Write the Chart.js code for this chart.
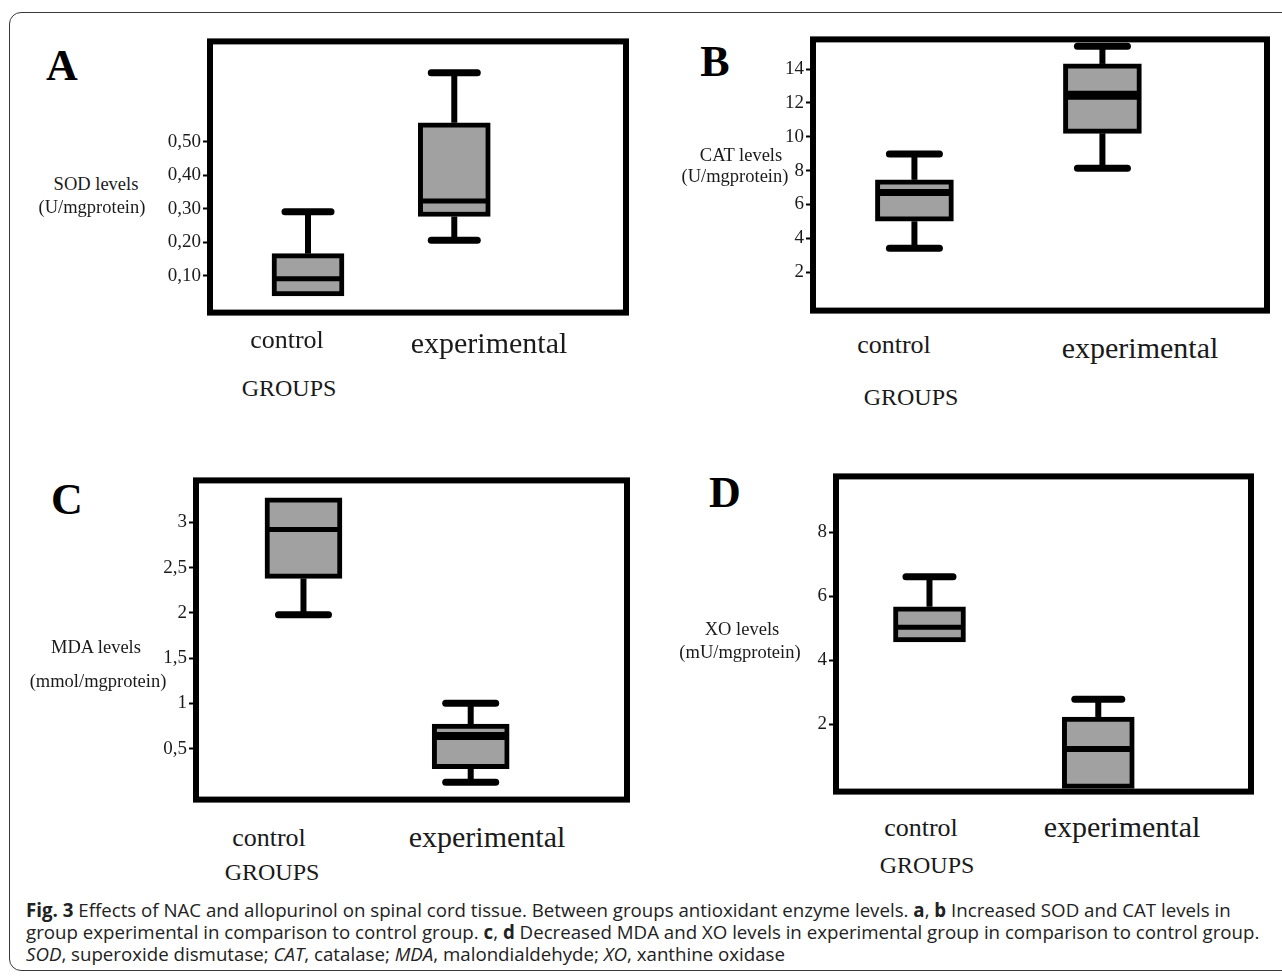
<!DOCTYPE html>
<html>
<head>
<meta charset="utf-8">
<script src="https://cdn.jsdelivr.net/npm/chart.js@4.4.1/dist/chart.umd.min.js"></script>
<style>
  html, body { margin: 0; padding: 0; background: #fff; }
  body { width: 1282px; height: 980px; position: relative; overflow: hidden; }
  .outer { position: absolute; left: 9px; top: 12px; width: 1300px; height: 959px;
           border: 1.5px solid #3a3a3a; border-radius: 12px; box-sizing: border-box; }
  canvas { position: absolute; }
  .t { position: absolute; white-space: nowrap; font-family: "Liberation Serif", serif;
       color: #1a1a1a; transform: translate(-50%, -50%); line-height: 1; }
  .letter { font-weight: bold; font-size: 44px; color: #000; }
  .ytitle { font-size: 18.5px; }
  .cat { font-size: 26px; }
  .cat.big { font-size: 30px; }
  .groups { font-size: 24px; }
  .cap { position: absolute; left: 26px; white-space: nowrap; font-family: "Open Sans", sans-serif;
         font-size: 18.7px; color: #222; transform: translateY(-50%); }
</style>
</head>
<body>
<div class="outer"></div>
<script>
// groups on the x axis
const groups = ['control', 'experimental'];

// A - SOD levels (U/mgprotein)
const sodTicks = [0.1, 0.2, 0.3, 0.4, 0.5];
const sodTickLabels = ['0,10', '0,20', '0,30', '0,40', '0,50'];
const sodMin = [0.04, 0.206];
const sodQ1 = [0.04, 0.277];
const sodMedian = [0.091, 0.323];
const sodQ3 = [0.166, 0.557];
const sodMax = [0.291, 0.706];

// B - CAT levels (U/mgprotein)
const catTicks = [2, 4, 6, 8, 10, 12, 14];
const catTickLabels = ['2', '4', '6', '8', '10', '12', '14'];
const catMin = [3.41, 8.13];
const catQ1 = [5.0, 10.2];
const catMedian = [6.7, 12.45];
const catQ3 = [7.45, 14.3];
const catMax = [8.98, 15.35];

// C - MDA levels (mmol/mgprotein)
const mdaTicks = [0.5, 1, 1.5, 2, 2.5, 3];
const mdaTickLabels = ['0,5', '1', '1,5', '2', '2,5', '3'];
const mdaMin = [1.98, 0.13];
const mdaQ1 = [2.38, 0.28];
const mdaMedian = [2.92, 0.64];
const mdaQ3 = [3.27, 0.77];
const mdaMax = [3.27, 1.0];

// D - XO levels (mU/mgprotein)
const xoTicks = [2, 4, 6, 8];
const xoTickLabels = ['2', '4', '6', '8'];
const xoMin = [4.57, 0];
const xoQ1 = [4.57, 0];
const xoMedian = [5.03, 1.23];
const xoQ3 = [5.67, 2.23];
const xoMax = [6.61, 2.78];

// whiskers, caps, medians and the heavy frame
const boxExtras = {
  id: 'boxExtras',
  beforeDatasetsDraw(chart) {
    const { ctx, scales: { x, y } } = chart;
    const st = chart.data.datasets[0].stats;
    const cap = chart.options.capWidth;
    ctx.save();
    ctx.strokeStyle = '#000';
    groups.forEach((g, i) => {
      const cx = x.getPixelForValue(i);
      const segs = [];
      if (st.max[i] > st.q3[i]) segs.push([st.q3[i], st.max[i]]);
      if (st.min[i] < st.q1[i]) segs.push([st.q1[i], st.min[i]]);
      segs.forEach(([from, to]) => {
        ctx.lineWidth = 6;
        ctx.lineCap = 'butt';
        ctx.beginPath();
        ctx.moveTo(cx, y.getPixelForValue(from));
        ctx.lineTo(cx, y.getPixelForValue(to));
        ctx.stroke();
        ctx.lineWidth = 7;
        ctx.lineCap = 'round';
        ctx.beginPath();
        ctx.moveTo(cx - cap / 2 + 3, y.getPixelForValue(to));
        ctx.lineTo(cx + cap / 2 - 3, y.getPixelForValue(to));
        ctx.stroke();
      });
    });
    ctx.restore();
  },
  afterDatasetsDraw(chart) {
    const { ctx, scales: { y } } = chart;
    const st = chart.data.datasets[0].stats;
    const meta = chart.getDatasetMeta(0);
    ctx.save();
    ctx.strokeStyle = '#000';
    ctx.lineCap = 'butt';
    groups.forEach((g, i) => {
      const bar = meta.data[i];
      const w = bar.width;
      ctx.lineWidth = chart.options.medianWidths[i];
      ctx.beginPath();
      ctx.moveTo(bar.x - w / 2 + 2, y.getPixelForValue(st.median[i]));
      ctx.lineTo(bar.x + w / 2 - 2, y.getPixelForValue(st.median[i]));
      ctx.stroke();
    });
    const a = chart.chartArea;
    ctx.lineWidth = 6;
    ctx.lineJoin = 'miter';
    ctx.strokeRect(a.left, a.top, a.right - a.left, a.bottom - a.top);
    ctx.restore();
  }
};

function makePanel(p) {
  const pad = 8, axisW = 60;
  const cv = document.createElement('canvas');
  const w = p.frame.r - p.frame.l + axisW + 2 * pad;
  const h = p.frame.b - p.frame.t + 2 * pad;
  cv.width = w; cv.height = h;
  cv.style.left = (p.frame.l - axisW - pad) + 'px';
  cv.style.top = (p.frame.t - pad) + 'px';
  document.body.appendChild(cv);

  new Chart(cv, {
    type: 'bar',
    data: {
      datasets: [{
        data: groups.map((g, i) => ({ x: i, y: [p.q1[i], p.q3[i]] })),
        stats: { min: p.min, q1: p.q1, median: p.median, q3: p.q3, max: p.max },
        backgroundColor: '#a1a1a1',
        borderColor: '#000',
        borderWidth: 5,
        borderSkipped: false,
        barThickness: p.barWidth
      }]
    },
    options: {
      responsive: false,
      animation: false,
      capWidth: p.capWidth,
      medianWidths: p.medianWidths,
      layout: { padding: pad },
      plugins: { legend: { display: false }, tooltip: { enabled: false } },
      scales: {
        x: { type: 'linear', display: false, min: p.xRange[0], max: p.xRange[1] },
        y: {
          min: p.yRange[0], max: p.yRange[1],
          afterFit(scale) { scale.width = axisW; },
          afterBuildTicks(scale) { scale.ticks = p.ticks.map(v => ({ value: v })); },
          ticks: {
            callback: (v, i) => p.tickLabels[i],
            font: { family: 'Liberation Serif', size: 19 },
            color: '#1a1a1a',
            padding: 2
          },
          grid: { drawOnChartArea: false, drawTicks: true, tickLength: 7, tickWidth: 2, tickColor: '#000' },
          border: { display: false }
        }
      }
    },
    plugins: [boxExtras]
  });

  const put = (text, cls, x, y) => {
    const d = document.createElement('div');
    d.className = 't ' + cls;
    d.textContent = text;
    d.style.left = x + 'px';
    d.style.top = y + 'px';
    document.body.appendChild(d);
  };
  put(p.letter, 'letter', p.letterAt[0], p.letterAt[1]);
  put(p.title[0], 'ytitle', p.titleAt[0][0], p.titleAt[0][1]);
  put(p.title[1], 'ytitle', p.titleAt[1][0], p.titleAt[1][1]);
  put(groups[0], 'cat', p.catAt[0][0], p.catAt[0][1]);
  put(groups[1], 'cat big', p.catAt[1][0], p.catAt[1][1]);
  put('GROUPS', 'groups', p.groupsAt[0], p.groupsAt[1]);
}

makePanel({
  letter: 'A', letterAt: [62, 66],
  title: ['SOD levels', '(U/mgprotein)'], titleAt: [[96, 184], [92, 207]],
  catAt: [[287, 340], [489, 343]], groupsAt: [289, 388],
  frame: { l: 210, t: 36, r: 626, b: 318 },
  xRange: [-0.433, 1.937], yRange: [-0.01, 0.8],
  barWidth: 72, capWidth: 52, medianWidths: [5, 5],
  ticks: sodTicks, tickLabels: sodTickLabels,
  min: sodMin, q1: sodQ1, median: sodMedian, q3: sodQ3, max: sodMax
});

makePanel({
  letter: 'B', letterAt: [715, 62],
  title: ['CAT levels', '(U/mgprotein)'], titleAt: [[741, 155], [735, 176]],
  catAt: [[894, 345], [1140, 348]], groupsAt: [911, 397],
  frame: { l: 813, t: 34, r: 1267, b: 316 },
  xRange: [-0.298, 1.634], yRange: [-0.28, 15.75],
  barWidth: 78, capWidth: 56, medianWidths: [7, 9],
  ticks: catTicks, tickLabels: catTickLabels,
  min: catMin, q1: catQ1, median: catMedian, q3: catQ3, max: catMax
});

makePanel({
  letter: 'C', letterAt: [67, 500],
  title: ['MDA levels', '(mmol/mgprotein)'], titleAt: [[96, 647], [98, 681]],
  catAt: [[269, 838], [487, 837]], groupsAt: [272, 872],
  frame: { l: 196, t: 475, r: 627, b: 805 },
  xRange: [-0.385, 1.677], yRange: [-0.063, 3.463],
  barWidth: 77, capWidth: 56, medianWidths: [5, 8],
  ticks: mdaTicks, tickLabels: mdaTickLabels,
  min: mdaMin, q1: mdaQ1, median: mdaMedian, q3: mdaQ3, max: mdaMax
});

makePanel({
  letter: 'D', letterAt: [725, 493],
  title: ['XO levels', '(mU/mgprotein)'], titleAt: [[742, 629], [740, 652]],
  catAt: [[921, 828], [1122, 827]], groupsAt: [927, 865],
  frame: { l: 836, t: 471, r: 1251, b: 797 },
  xRange: [-0.308, 1.659], yRange: [-0.1, 9.74],
  barWidth: 72, capWidth: 53, medianWidths: [5, 6],
  ticks: xoTicks, tickLabels: xoTickLabels,
  min: xoMin, q1: xoQ1, median: xoMedian, q3: xoQ3, max: xoMax
});

// caption
const captionLines = [
  '<b>Fig. 3</b> Effects of NAC and allopurinol on spinal cord tissue. Between groups antioxidant enzyme levels. <b>a</b>, <b>b</b> Increased SOD and CAT levels in',
  'group experimental in comparison to control group. <b>c</b>, <b>d</b> Decreased MDA and XO levels in experimental group in comparison to control group.',
  '<i>SOD</i>, superoxide dismutase; <i>CAT</i>, catalase; <i>MDA</i>, malondialdehyde; <i>XO</i>, xanthine oxidase'
];
[909, 931, 953].forEach((y, i) => {
  const d = document.createElement('div');
  d.className = 'cap';
  d.innerHTML = captionLines[i];
  d.style.top = y + 'px';
  document.body.appendChild(d);
});
</script>
</body>
</html>
